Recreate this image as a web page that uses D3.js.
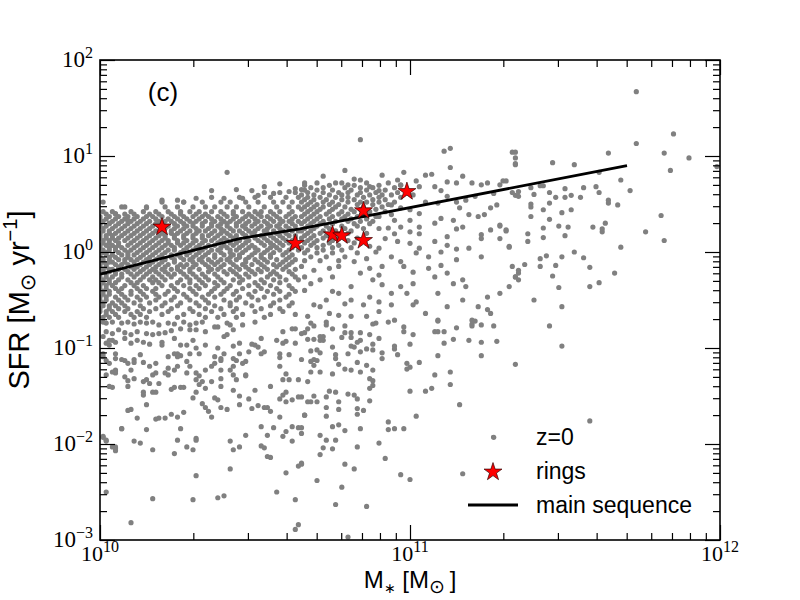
<!DOCTYPE html>
<html>
<head>
<meta charset="utf-8">
<script src="https://cdn.jsdelivr.net/npm/d3@7"></script>
<style>
  body { margin: 0; background: #fff; }
</style>
</head>
<body>
<div id="chart"></div>
<script>
// ---- data (log10 M*/Msun, log10 SFR/(Msun/yr)) ----

// dense part of the z=0 cloud, one row per log SFR level
var coreRows = [
  [0.62, [10.53,10.58,10.63]],
  [0.57, [10.36,10.45,10.50,10.55,10.60,10.64]],
  [0.52, [10.20,10.27,10.33,10.39,10.42,10.47,10.51,10.56,10.59,10.62]],
  [0.47, [10.07,10.15,10.21,10.25,10.30,10.34,10.37,10.41,10.44,10.48,10.53,10.57,10.61,10.64]],
  [0.42, [10.01,10.04,10.10,10.14,10.18,10.22,10.26,10.29,10.32,10.36,10.39,10.43,10.46,10.50,10.52,10.55,10.58,10.62]],
  [0.395, [10.02,10.05,10.08,10.11,10.16,10.19,10.23,10.26,10.31,10.34,10.40,10.43,10.48,10.51,10.56,10.61]],
  [0.37, [10.00,10.03,10.06,10.09,10.12,10.15,10.17,10.20,10.24,10.27,10.30,10.33,10.35,10.38,10.41,10.44,10.47,10.49,10.52,10.54,10.57,10.60,10.63]],
  [0.345, [10.00,10.02,10.05,10.08,10.11,10.14,10.18,10.22,10.25,10.28,10.32,10.36,10.39,10.43,10.46,10.50,10.55,10.58,10.62]],
  [0.32, [10.01,10.04,10.07,10.10,10.13,10.16,10.19,10.21,10.23,10.26,10.29,10.31,10.34,10.37,10.40,10.42,10.45,10.48,10.51,10.53,10.56,10.59,10.61,10.64]],
  [0.295, [10.00,10.03,10.06,10.09,10.12,10.15,10.18,10.20,10.24,10.27,10.30,10.33,10.36,10.39,10.41,10.44,10.47,10.50,10.54,10.58,10.62]],
  [0.27, [10.00,10.02,10.05,10.08,10.11,10.14,10.17,10.19,10.22,10.25,10.28,10.30,10.33,10.36,10.38,10.41,10.44,10.46,10.49,10.52,10.55,10.57,10.60,10.63]],
  [0.245, [10.01,10.04,10.07,10.10,10.13,10.16,10.21,10.24,10.27,10.31,10.35,10.39,10.42,10.47,10.51,10.54,10.58,10.61]],
  [0.22, [10.01,10.03,10.06,10.09,10.12,10.15,10.18,10.20,10.23,10.26,10.29,10.32,10.34,10.37,10.40,10.43,10.45,10.48,10.50,10.53,10.56,10.59,10.62,10.64]],
  [0.195, [10.00,10.03,10.05,10.08,10.11,10.14,10.17,10.20,10.23,10.25,10.28,10.31,10.36,10.39,10.41,10.46,10.49,10.54,10.57,10.60]],
  [0.17, [10.00,10.02,10.04,10.07,10.10,10.13,10.16,10.19,10.21,10.24,10.27,10.30,10.33,10.35,10.38,10.42,10.44,10.47,10.50,10.52,10.55,10.58,10.61,10.63]],
  [0.145, [10.00,10.02,10.04,10.06,10.09,10.12,10.15,10.18,10.21,10.24,10.27,10.30,10.33,10.37,10.40,10.43,10.47,10.50,10.53,10.56,10.59,10.63]],
  [0.12, [10.01,10.03,10.05,10.08,10.11,10.14,10.17,10.20,10.22,10.25,10.28,10.31,10.34,10.36,10.39,10.41,10.45,10.48,10.51,10.54,10.57,10.60,10.62]],
  [0.095, [10.01,10.03,10.06,10.10,10.13,10.16,10.19,10.22,10.25,10.27,10.30,10.33,10.38,10.42,10.44,10.47,10.52,10.55,10.58,10.61]],
  [0.07, [10.00,10.02,10.04,10.06,10.09,10.12,10.15,10.18,10.21,10.23,10.26,10.29,10.32,10.35,10.37,10.40,10.43,10.46,10.49,10.53,10.56,10.59,10.63]],
  [0.045, [10.00,10.03,10.05,10.07,10.11,10.14,10.17,10.20,10.24,10.28,10.31,10.34,10.39,10.41,10.45,10.48,10.50,10.55,10.57,10.62]],
  [0.02, [10.01,10.03,10.05,10.08,10.10,10.13,10.16,10.19,10.22,10.24,10.27,10.30,10.33,10.36,10.38,10.42,10.44,10.47,10.51,10.54,10.58,10.61,10.64]],
  [-0.005, [10.01,10.02,10.06,10.09,10.12,10.15,10.18,10.21,10.26,10.29,10.32,10.35,10.39,10.42,10.46,10.50,10.53,10.56,10.60]],
  [-0.03, [10.00,10.02,10.04,10.07,10.09,10.11,10.14,10.17,10.20,10.23,10.25,10.28,10.31,10.34,10.37,10.40,10.43,10.45,10.49,10.52,10.55,10.59,10.62]],
  [-0.055, [10.00,10.03,10.05,10.09,10.13,10.16,10.19,10.23,10.26,10.30,10.33,10.37,10.42,10.45,10.48,10.52,10.55,10.61]],
  [-0.08, [10.01,10.03,10.06,10.08,10.10,10.12,10.15,10.18,10.21,10.24,10.27,10.29,10.32,10.35,10.39,10.41,10.44,10.47,10.50,10.53,10.57,10.60,10.63]],
  [-0.105, [10.01,10.03,10.04,10.08,10.11,10.14,10.17,10.20,10.24,10.30,10.33,10.36,10.38,10.42,10.47,10.51,10.54,10.59,10.62]],
  [-0.13, [10.00,10.02,10.05,10.07,10.09,10.13,10.16,10.19,10.22,10.26,10.28,10.31,10.34,10.37,10.40,10.43,10.46,10.49,10.52,10.56,10.58,10.61]],
  [-0.155, [10.00,10.02,10.06,10.10,10.12,10.15,10.18,10.21,10.25,10.27,10.30,10.35,10.39,10.44,10.47,10.53,10.57,10.60]],
  [-0.18, [10.01,10.03,10.04,10.06,10.08,10.11,10.14,10.17,10.20,10.23,10.25,10.29,10.32,10.36,10.38,10.42,10.45,10.48,10.51,10.54,10.59,10.63]],
  [-0.205, [10.01,10.03,10.05,10.09,10.13,10.16,10.18,10.21,10.26,10.29,10.35,10.40,10.43,10.49,10.52,10.56,10.61]],
  [-0.23, [10.00,10.02,10.05,10.07,10.10,10.12,10.15,10.19,10.22,10.24,10.27,10.30,10.33,10.37,10.41,10.44,10.47,10.50,10.55,10.57,10.62]],
  [-0.26, [10.00,10.02,10.04,10.07,10.11,10.14,10.17,10.20,10.23,10.28,10.31,10.34,10.38,10.45,10.48,10.54,10.58,10.63]],
  [-0.29, [10.01,10.03,10.06,10.09,10.13,10.16,10.18,10.21,10.26,10.29,10.32,10.35,10.39,10.43,10.46,10.52,10.56,10.60,10.64]],
  [-0.32, [10.01,10.03,10.05,10.10,10.12,10.17,10.19,10.25,10.29,10.33,10.37,10.40,10.45,10.50,10.53,10.58]],
  [-0.35, [10.00,10.02,10.04,10.08,10.11,10.14,10.20,10.23,10.27,10.31,10.34,10.38,10.42,10.48,10.51,10.55,10.61]],
  [-0.38, [10.00,10.02,10.05,10.07,10.12,10.15,10.18,10.24,10.29,10.32,10.37,10.41,10.46,10.52,10.57,10.62]],
  [-0.41, [10.01,10.03,10.06,10.10,10.13,10.17,10.22,10.25,10.30,10.36,10.40,10.44,10.50,10.54,10.58,10.63]],
  [-0.44, [10.01,10.03,10.07,10.10,10.14,10.18,10.21,10.27,10.31,10.35,10.39,10.43,10.48,10.56,10.61]],
  [-0.47, [10.00,10.02,10.05,10.08,10.12,10.15,10.19,10.24,10.28,10.33,10.37,10.45,10.49,10.53,10.60]],
  [-0.50, [10.00,10.02,10.06,10.09,10.13,10.18,10.23,10.29,10.34,10.40,10.44,10.51,10.58]],
  [-0.53, [10.01,10.04,10.07,10.11,10.16,10.21,10.26,10.31,10.35,10.42,10.47,10.56,10.62]],
  [-0.56, [10.01,10.03,10.05,10.08,10.13,10.20,10.25,10.32,10.37,10.42,10.49,10.55,10.61]],
  [-0.59, [10.00,10.03,10.06,10.09,10.14,10.18,10.23,10.29,10.34,10.39,10.44,10.52,10.58]],
  [-0.62, [10.00,10.02,10.04,10.08,10.12,10.16,10.22,10.30,10.36,10.43,10.50,10.59]],
  [-0.65, [10.02,10.05,10.10,10.13,10.20,10.27,10.32,10.40,10.46,10.55,10.63]],
  [-0.68, [10.01,10.03,10.06,10.11,10.15,10.25,10.34,10.38,10.44,10.53]]
];

// moderately dense part just above 5e10 Msun
var midRows = [
  [0.72, [10.70,10.78,10.86,10.93]],
  [0.695, [10.66,10.74,10.82,10.90,10.97]],
  [0.67, [10.68,10.72,10.79,10.84,10.88,10.95]],
  [0.645, [10.66,10.70,10.75,10.81,10.86,10.92,10.99]],
  [0.62, [10.67,10.72,10.77,10.80,10.84,10.89,10.96]],
  [0.595, [10.65,10.69,10.74,10.78,10.83,10.87,10.91,10.94,11.01]],
  [0.57, [10.67,10.71,10.76,10.80,10.85,10.90,10.97]],
  [0.545, [10.66,10.69,10.73,10.78,10.82,10.88,10.92]],
  [0.52, [10.65,10.68,10.72,10.75,10.80,10.84,10.86,10.90,10.95]],
  [0.495, [10.67,10.70,10.74,10.77,10.83,10.88,10.93]],
  [0.47, [10.66,10.69,10.72,10.76,10.79,10.85,10.91]],
  [0.445, [10.65,10.68,10.71,10.75,10.81,10.84,10.89]],
  [0.42, [10.67,10.70,10.74,10.78,10.82,10.87,10.92]],
  [0.395, [10.66,10.69,10.73,10.77,10.80,10.85]],
  [0.37, [10.65,10.68,10.71,10.75,10.79,10.83,10.90]],
  [0.345, [10.67,10.70,10.74,10.78,10.81,10.86]],
  [0.32, [10.66,10.69,10.72,10.76,10.80,10.84,10.88]],
  [0.295, [10.65,10.68,10.71,10.75,10.82,10.87]],
  [0.27, [10.67,10.70,10.73,10.78,10.83]],
  [0.245, [10.66,10.69,10.74,10.79,10.85,10.90]],
  [0.22, [10.65,10.68,10.72,10.76,10.81]],
  [0.195, [10.67,10.71,10.75,10.80,10.86]],
  [0.17, [10.66,10.69,10.73,10.78]],
  [0.145, [10.65,10.68,10.72,10.77,10.83]],
  [0.12, [10.67,10.70,10.75,10.80]],
  [0.095, [10.66,10.69,10.74,10.82]],
  [0.07, [10.68,10.72,10.77]],
  [0.045, [10.65,10.70,10.75,10.81]],
  [0.02, [10.67,10.72,10.78]],
  [-0.01, [10.66,10.70,10.75,10.83]],
  [-0.05, [10.68,10.73,10.79]],
  [-0.09, [10.66,10.71,10.77]]
];

// individually readable galaxies
var loosePoints = [
  [11.73,1.67],[11.85,1.23],[11.73,1.13],[11.82,1.03],[11.90,0.98],[11.99,0.89],[11.84,0.85],[11.34,1.04],[11.34,0.98],[11.34,0.91],
  [11.46,0.93],[11.53,0.91],[11.64,1.03],[11.61,0.83],[11.68,0.75],[11.71,0.64],[11.60,0.68],[11.61,0.62],[11.56,0.67],[11.50,0.66],
  [11.55,0.57],[11.52,0.59],[11.50,0.57],[11.47,0.57],[11.45,0.62],[11.43,0.69],[11.42,0.69],[11.40,0.60],[11.39,0.67],[11.35,0.63],
  [11.35,0.58],[11.33,0.62],[11.30,0.74],[11.31,0.74],[11.29,0.70],[11.64,0.54],[11.64,0.51],[11.67,0.49],[11.52,0.44],[11.49,0.41],
  [11.45,0.51],[11.43,0.44],[11.39,0.50],[11.39,0.47],[11.39,0.37],[11.45,0.34],[11.48,0.27],[11.51,0.26],[11.50,0.17],[11.43,0.25],
  [11.43,0.15],[11.38,0.19],[11.38,0.11],[11.59,0.26],[11.62,0.24],[11.62,0.21],[11.63,0.30],[11.81,0.38],[11.76,0.21],[11.82,0.12],
  [11.68,0.05],[11.53,0.00],[11.56,-0.06],[11.58,-0.16],[11.66,-0.22],[11.61,-0.32],[11.58,-0.36],[11.49,-0.05],[11.47,-0.14],[11.46,-0.25],
  [11.48,-0.37],[11.44,-0.04],[11.42,-0.07],[11.42,-0.15],[11.37,-0.13],[11.35,-0.19],[11.35,-0.22],[11.34,-0.26],[11.35,-0.29],[11.40,-0.50],
  [11.49,-0.57],[11.45,-0.77],[11.32,0.05],[11.29,0.14],[11.29,0.27],[11.31,0.22],
  [11.49,-0.98],[11.34,-1.17],[11.58,-1.76],
  [10.66,-0.84],[10.67,-0.91],[10.69,-0.77],[10.67,-0.80],[10.73,-0.76],[10.73,-0.73],[10.75,-0.80],[10.79,-0.77],[10.79,-0.84],[10.78,-0.89],
  [10.81,-0.84],[10.81,-0.89],[10.84,-0.84],[10.88,-0.75],[10.89,-0.74],[10.93,-0.73],[10.87,-0.86],[10.90,-0.90],[10.84,-0.92],[10.83,-0.94],
  [10.82,-0.99],[10.81,-0.98],[10.88,-0.96],[10.88,-1.02],[10.86,-1.01],[10.84,-1.04],[10.80,-1.06],[10.76,-1.07],[10.76,-1.11],[10.75,-0.99],
  [10.77,-1.17],[10.79,-1.22],[10.81,-1.23],[10.84,-1.25],[10.86,-1.18],[10.88,-1.23],[10.91,-1.05],[10.91,-1.11],[10.83,-1.15],[10.71,-0.92],
  [10.71,-0.88],[10.72,-0.88],[10.69,-0.91],[10.72,-0.92],[10.70,-1.02],[10.71,-1.05],[10.68,-1.03],[10.69,-1.12],[10.69,-1.18],[10.70,-1.13],
  [10.65,-1.12],[10.68,-1.25],[10.71,-1.25],[10.75,-1.27],[10.87,-1.32],[10.88,-1.34],[10.88,-1.39],[10.87,-1.42],[10.76,-1.46],[10.74,-1.45],
  [10.80,-1.48],[10.82,-1.49],[10.83,-1.53],[10.87,-1.55],[10.77,-1.56],[10.73,-1.51],[10.69,-1.50],[10.70,-1.56],[10.68,-1.56],[10.65,-1.51],
  [10.73,-1.62],[10.77,-1.64],[10.83,-1.63],[10.85,-1.65],[10.83,-1.69],[10.73,-1.71],[10.66,-1.70],[10.75,-1.82],[10.77,-1.80],[10.79,-1.86],
  [10.84,-1.84],[10.65,-1.83],[10.65,-1.89],[10.71,-1.91],[10.73,-1.96],[10.76,-1.96],[10.72,-2.04],[10.75,-2.05],[10.71,-2.11],[10.83,-2.03],
  [10.90,-1.99],[10.92,-2.15],[10.79,-2.21],[10.82,-2.26],[10.65,-2.20],[10.70,-2.38],[10.78,-2.45],[10.76,-2.63],[10.86,-2.65],[10.80,-2.97],
  [10.97,-2.32],[11.00,-2.37],[10.93,-1.77],[10.93,-1.85],[10.95,-1.84],[10.98,-1.84],[11.02,-1.71],[11.00,-1.45],[11.05,-1.45],[11.07,-1.42],
  [11.08,-1.28],[11.13,-1.25],[11.13,-1.38],[11.09,-1.08],[11.03,-1.15],[11.00,-1.20],[10.99,-1.16],[10.99,-1.22],[10.96,-1.07],[10.95,-0.98],
  [10.95,-1.01],[11.00,-0.96],[10.98,-0.83],[11.01,-0.86],[11.08,-0.83],[11.09,-0.83],[11.11,-0.83],[11.09,-0.72],[11.11,-0.95],[11.14,-0.91],
  [11.15,-0.79],[11.20,-0.77],[11.20,-0.75],[11.21,-0.72],[11.23,-0.76],[11.27,-0.77],[11.19,-0.92],[11.23,-0.94],[11.28,-0.93],[11.23,-1.08],
  [11.16,-1.59],[11.27,-1.93],[11.17,-2.31],
  [10.01,-0.73],[10.02,-0.74],[10.04,-0.73],[10.07,-0.74],[10.09,-0.73],[10.11,-0.75],[10.13,-0.73],[10.15,-0.74],[10.17,-0.73],[10.19,-0.76],
  [10.22,-0.74],[10.24,-0.75],[10.27,-0.73],[10.29,-0.76],[10.31,-0.74],[10.33,-0.73],[10.02,-0.83],[10.04,-0.85],[10.06,-0.81],[10.08,-0.84],
  [10.10,-0.86],[10.12,-0.83],[10.15,-0.85],[10.17,-0.86],[10.19,-0.85],[10.21,-0.84],[10.23,-0.82],[10.26,-0.80],[10.29,-0.81],[10.31,-0.81],
  [10.34,-0.83],[10.37,-0.78],[10.03,-0.92],[10.05,-0.94],[10.08,-0.90],[10.10,-0.95],[10.12,-0.92],[10.14,-0.94],[10.16,-0.96],[10.20,-0.94],
  [10.26,-0.97],[10.24,-0.90],[10.01,-1.09],[10.05,-1.11],[10.08,-1.13],[10.09,-1.16],[10.11,-1.12],[10.14,-1.15],[10.16,-1.19],[10.24,-1.06],
  [10.25,-1.09],[10.26,-1.08],[10.29,-1.06],[10.04,-1.25],[10.05,-1.26],[10.08,-1.30],[10.10,-1.23],[10.11,-1.32],[10.09,-1.34],[10.04,-1.41],
  [10.14,-1.35],[10.15,-1.33],[10.16,-1.37],[10.19,-1.37],[10.17,-1.28],[10.18,-1.26],[10.21,-1.26],[10.24,-1.23],[10.22,-1.21],[10.22,-1.28],
  [10.23,-1.43],[10.24,-1.41],[10.26,-1.41],[10.27,-1.41],[10.28,-1.26],[10.31,-1.26],[10.31,-1.33],[10.32,-1.29],[10.33,-1.35],[10.34,-1.23],
  [10.36,-1.19],[10.37,-1.16],[10.39,-1.13],[10.39,-1.23],[10.39,-1.32],[10.42,-1.23],[10.43,-1.19],[10.44,-1.33],[10.47,-1.28],[10.36,-1.35],
  [10.34,-1.42],[10.31,-1.46],[10.32,-1.38],[10.30,-1.52],[10.33,-1.58],[10.34,-1.62],[10.37,-1.52],[10.38,-1.54],[10.35,-1.66],[10.36,-1.72],
  [10.39,-1.62],[10.41,-1.64],[10.43,-1.44],[10.45,-1.50],[10.45,-1.59],[10.47,-1.29],[10.48,-1.53],[10.49,-1.63],[10.51,-1.60],[10.53,-1.62],
  [10.50,-1.44],[10.47,-1.14],[10.50,-0.97],[10.53,-1.04],[10.51,-0.99],[10.45,-0.95],[10.43,-0.98],[10.40,-1.06],[10.38,-1.00],[10.41,-0.86],
  [10.42,-0.76],[10.40,-0.88],[10.46,-0.76],[10.50,-0.73],[10.52,-0.90],[10.57,-0.92],[10.59,-0.83],[10.62,-0.80],[10.63,-0.80],[10.65,-0.85],
  [10.59,-0.95],[10.60,-0.93],[10.63,-0.95],[10.58,-1.06],[10.58,-1.10],[10.61,-1.07],[10.68,-1.14],[10.58,-1.19],[10.60,-1.27],[10.59,-1.33],
  [10.61,-1.33],[10.64,-1.33],[10.67,-1.35],[10.60,-1.46],[10.59,-1.49],[10.58,-1.53],[10.60,-1.56],[10.62,-1.54],[10.64,-1.51],[10.67,-1.56],
  [10.55,-1.40],[10.54,-1.62],[10.55,-1.66],[10.58,-1.72],[10.66,-1.70],[10.52,-1.82],[10.56,-1.83],[10.59,-1.92],[10.60,-1.87],[10.62,-1.82],
  [10.64,-1.83],[10.62,-1.97],[10.54,-1.91],[10.52,-2.02],[10.53,-2.04],[10.54,-2.13],[10.55,-2.14],[10.65,-2.21],[10.64,-2.23],[10.60,-2.30],
  [10.57,-2.50],[10.63,-2.58],[10.64,-2.84],[10.63,-2.89],[10.47,-1.91],[10.45,-2.03],[10.43,-2.06],[10.42,-1.97],[10.42,-2.26],[10.40,-2.54],
  [10.38,-2.56],[10.31,-2.33],[10.30,-2.58],[10.31,-1.94],[10.31,-1.96],[10.30,-2.06],[10.28,-2.03],[10.26,-1.84],[10.25,-1.96],[10.24,-2.10],
  [10.23,-1.69],[10.25,-1.72],[10.27,-1.67],[10.21,-1.73],[10.19,-1.73],[10.18,-1.74],[10.15,-1.85],[10.12,-1.73],[10.09,-1.65],[10.10,-1.64],
  [10.07,-1.84],[10.01,-1.93],[10.02,-1.97],[10.04,-2.03],[10.05,-2.07],[10.11,-1.97],[10.13,-1.99],[10.17,-2.06],[10.17,-2.57],[10.10,-2.82],
  [10.02,-2.50],[10.14,-1.49],[10.15,-1.59],[10.17,-1.46],[10.18,-1.46],[10.14,-1.46],[10.09,-1.40],[10.02,-1.13],[10.05,-1.24],[10.11,-1.15],
  [10.07,-1.12],[10.13,-1.07],[10.05,-1.06],[10.03,-0.97],[10.22,-1.09],[10.25,-1.06],[10.20,-0.97],[10.28,-1.14],[10.29,-1.19],[10.25,-1.19],
  [10.18,-1.16],[10.38,-0.78],[10.41,-0.74],[10.43,-0.81],[10.34,-0.97],[10.31,-1.00],[10.28,-0.97],[10.30,-0.92],[10.32,-1.06],[10.37,-1.09],
  [10.39,-1.11],[10.44,-1.13],[10.45,-1.06],[10.48,-1.04],[10.46,-1.16],[10.43,-1.28],[10.39,-1.40],[10.43,-1.11],[10.52,-1.06],[10.49,-0.96],
  [10.01,-0.88],[10.02,-0.95],[10.04,-0.92],[10.01,-1.06],[10.03,-1.16],[10.05,-1.23],[10.02,-1.28],[10.03,-1.40],[10.01,-1.92],[10.02,-1.96],
  [10.05,-2.03],[10.05,-2.05],[10.07,-1.84],
  [10.84,1.17],[11.11,1.05],[11.13,1.08],[11.13,0.88],[11.33,1.04],[11.34,0.92],[10.98,0.83],[10.91,0.80],[10.79,0.85],[10.72,0.79],
  [10.76,0.72],[10.82,0.76],[10.84,0.75],[10.80,0.70],[10.87,0.68],[10.90,0.64],[10.96,0.75],[10.97,0.70],[11.02,0.74],[11.05,0.80],
  [11.07,0.81],[11.03,0.68],[11.08,0.68],[11.10,0.64],[11.12,0.73],[11.15,0.72],[11.17,0.79],[11.20,0.72],[11.23,0.70],[11.25,0.72],
  [11.34,0.59],[11.27,0.61],[11.21,0.58],[11.18,0.54],[11.16,0.46],[11.15,0.52],[11.12,0.58],[11.09,0.51],[11.05,0.52],[11.03,0.40],
  [11.00,0.44],[10.97,0.46],[10.94,0.49],[10.94,0.39],[10.89,0.37],[10.95,0.33],[11.00,0.33],[10.97,0.26],[11.03,0.26],[11.08,0.30],
  [11.10,0.35],[11.14,0.33],[11.19,0.39],[11.22,0.37],[11.24,0.39],[11.26,0.46],[11.28,0.49],[11.29,0.28],[11.31,0.23],[11.26,0.23],
  [11.23,0.18],[11.17,0.26],[11.12,0.16],[11.15,0.24],[11.08,0.11],[11.03,0.19],[11.00,0.21],[10.95,0.19],[10.93,0.25],[10.92,0.14],
  [10.96,0.11],[11.00,0.09],[11.03,0.04],[11.02,-0.01],[11.06,-0.05],[11.10,0.00],[11.12,0.07],[11.15,0.03],[11.19,0.04],[11.23,0.14],
  [11.32,0.06],[11.23,-0.05],[11.15,-0.08],[11.10,-0.14],[11.12,-0.22],[11.08,-0.26],[11.06,-0.17],[11.01,-0.21],[10.98,-0.15],[10.97,-0.10],
  [10.94,-0.05],[10.91,-0.15],[10.90,-0.24],[10.87,-0.17],[10.84,-0.22],[10.88,-0.29],[10.91,-0.34],[10.94,-0.43],[10.97,-0.36],[11.01,-0.33],
  [10.99,-0.43],[11.02,-0.52],[11.01,-0.55],[11.09,-0.43],[11.14,-0.33],[11.17,-0.29],[11.18,-0.36],[11.17,-0.50],[11.25,-0.47],[11.25,-0.60],
  [11.26,-0.64],[11.22,-0.57],[11.20,-0.71],[11.29,-0.43],[11.32,-0.36],[11.34,-0.26],[11.33,-0.15],[11.09,-0.71],[11.12,-0.57],[11.05,-0.64],
  [10.94,-0.55],[10.90,-0.52],[10.87,-0.47],[10.85,-0.55],[10.81,-0.50],[10.79,-0.54],[10.75,-0.41],[10.77,-0.43],[10.73,-0.50],[10.71,-0.57],
  [10.69,-0.55],[10.74,-0.64],[10.77,-0.66],[10.81,-0.67],[10.86,-0.67],[10.90,-0.62],[10.95,-0.71],[10.98,-0.78],[10.67,-0.67],[10.68,-0.74],
  [10.81,-0.36],[10.75,-0.26],[10.71,-0.29],[10.68,-0.33],[10.69,-0.19],[10.74,-0.17],[10.77,-0.15],[10.82,-0.10],[10.86,-0.07],[10.89,0.00],
  [10.90,0.04],[10.87,0.06],[10.65,-0.15],[10.66,-0.26],[10.66,-0.40],
  [10.41,0.83],[10.36,0.64],[10.31,0.56],[10.20,0.54],[10.15,0.46],[10.08,0.47],[10.05,0.40],[10.25,0.54],[10.27,0.52],[10.44,0.65],
  [10.49,0.64],[10.53,0.68],[10.58,0.71],[10.66,0.72],[10.63,0.66],[10.40,0.56],[10.46,0.56],[10.51,0.59],[10.56,0.61],[10.61,0.63],
  [10.65,0.65],[10.01,0.52],[10.03,0.30],[10.09,0.33]
];

// ring galaxies
var ringLogM   = [10.20, 10.63, 10.75, 10.78, 10.85, 10.85, 10.99];
var ringLogSFR = [0.26, 0.09, 0.18, 0.17, 0.12, 0.43, 0.63];

// main sequence
var msLogM   = [10.00, 10.45, 10.645, 11.70];
var msLogSFR = [-0.23, 0.14, 0.24, 0.90];

var xMajor = [1e10, 1e11, 1e12];
var xLabelExp = ['10', '11', '12'];
var yMajor = [1e-3, 1e-2, 1e-1, 1, 10, 100];
var yLabelExp = ['\u22123', '\u22122', '\u22121', '0', '1', '2'];

// ---- layout ----
var margin = {top: 60, right: 80, bottom: 60, left: 100},
    width = 800 - margin.left - margin.right,
    height = 600 - margin.top - margin.bottom;

var svg = d3.select('#chart')
  .append('svg')
    .attr('width', 800)
    .attr('height', 600)
  .append('g')
    .attr('transform', 'translate(' + margin.left + ',' + margin.top + ')');

var x = d3.scaleLog().domain([1e10, 1e12]).range([0, width]);
var y = d3.scaleLog().domain([1e-3, 1e2]).range([height, 0]);

// build the galaxy list
var galaxies = [];
coreRows.concat(midRows).forEach(function(r) {
  r[1].forEach(function(m) { galaxies.push({m: Math.pow(10, m), sfr: Math.pow(10, r[0])}); });
});
loosePoints.forEach(function(p) {
  galaxies.push({m: Math.pow(10, p[0]), sfr: Math.pow(10, p[1])});
});

svg.append('clipPath').attr('id', 'plotclip')
  .append('rect').attr('width', width).attr('height', height);

var plot = svg.append('g').attr('clip-path', 'url(#plotclip)');

plot.selectAll('circle.gal')
  .data(galaxies)
  .enter()
  .append('circle')
    .attr('class', 'gal')
    .attr('cx', function(d) { return x(d.m); })
    .attr('cy', function(d) { return y(d.sfr); })
    .attr('r', 2.6)
    .attr('fill', '#808080');

// main sequence line
var msData = msLogM.map(function(m, i) { return {m: Math.pow(10, m), sfr: Math.pow(10, msLogSFR[i])}; });
plot.append('path')
  .datum(msData)
  .attr('fill', 'none')
  .attr('stroke', '#000')
  .attr('stroke-width', 2.8)
  .attr('d', d3.line()
    .x(function(d) { return x(d.m); })
    .y(function(d) { return y(d.sfr); }));

// rings
var rings = ringLogM.map(function(m, i) { return {m: Math.pow(10, m), sfr: Math.pow(10, ringLogSFR[i])}; });
var star = d3.symbol().type(d3.symbolStar).size(100);
plot.selectAll('path.ring')
  .data(rings)
  .enter()
  .append('path')
    .attr('class', 'ring')
    .attr('d', star)
    .attr('transform', function(d) { return 'translate(' + x(d.m) + ',' + y(d.sfr) + ')'; })
    .attr('fill', '#ff0000')
    .attr('stroke', '#300')
    .attr('stroke-width', 0.7);

// ---- axes: ticks on all four sides, pointing inward ----
function minorTicks(lo, hi) {
  var out = [];
  for (var e = lo; e < hi; e++) {
    for (var k = 2; k <= 9; k++) out.push(k * Math.pow(10, e));
  }
  return out;
}
var xMinor = minorTicks(10, 12);
var yMinor = minorTicks(-3, 2);

function tickAxis(axisFn, scale, vals, size, tr) {
  var g = svg.append('g').attr('transform', tr || null)
    .call(axisFn(scale).tickValues(vals).tickSize(size).tickSizeOuter(0).tickFormat(''));
  g.select('.domain').remove();
  g.selectAll('line').attr('stroke', '#000').attr('stroke-width', 1.2);
}
tickAxis(d3.axisBottom, x, xMajor, -15, 'translate(0,' + height + ')');
tickAxis(d3.axisBottom, x, xMinor, -7, 'translate(0,' + height + ')');
tickAxis(d3.axisTop, x, xMajor, -15);
tickAxis(d3.axisTop, x, xMinor, -7);
tickAxis(d3.axisLeft, y, yMajor, -15);
tickAxis(d3.axisLeft, y, yMinor, -7);
tickAxis(d3.axisRight, y, yMajor, -15, 'translate(' + width + ',0)');
tickAxis(d3.axisRight, y, yMinor, -7, 'translate(' + width + ',0)');

svg.append('rect')
  .attr('width', width)
  .attr('height', height)
  .attr('fill', 'none')
  .attr('stroke', '#000')
  .attr('stroke-width', 1.6);

// tick labels 10^n
var serif = "'Liberation Serif', 'DejaVu Serif', serif";
var xl = svg.selectAll('text.xlab')
  .data(xMajor)
  .enter()
  .append('text')
    .attr('class', 'xlab')
    .attr('x', function(d) { return x(d); })
    .attr('y', height + 21)
    .attr('text-anchor', 'middle')
    .style('font-family', serif)
    .style('font-size', '22px');
xl.append('tspan').text('10');
xl.append('tspan').attr('dy', -9).style('font-size', '16px')
  .text(function(d, i) { return xLabelExp[i]; });

var yl = svg.selectAll('text.ylab')
  .data(yMajor)
  .enter()
  .append('text')
    .attr('class', 'ylab')
    .attr('x', -7)
    .attr('y', function(d) { return y(d) + 7; })
    .attr('text-anchor', 'end')
    .style('font-family', serif)
    .style('font-size', '23px');
yl.append('tspan').text('10');
yl.append('tspan').attr('dy', -9).style('font-size', '16px')
  .text(function(d, i) { return yLabelExp[i]; });

// axis titles
var sans = "'Liberation Sans', Arial, sans-serif";
var xt = svg.append('text')
  .attr('x', width / 2)
  .attr('y', height + 48)
  .attr('text-anchor', 'middle')
  .style('font-family', sans)
  .style('font-size', '24px');
xt.append('tspan').text('M');
xt.append('tspan').attr('dy', 5).style('font-size', '14px').text('\u2217');
xt.append('tspan').attr('dy', -5).text(' [M');
xt.append('tspan').attr('dy', 5).style('font-size', '19px').style('font-family', "'DejaVu Sans', sans-serif").text('\u2299');
xt.append('tspan').attr('dy', -5).text('\u2009]');

var yt = svg.append('text')
  .attr('transform', 'translate(' + (-71) + ',' + (height / 2) + ')rotate(-90)')
  .attr('text-anchor', 'middle')
  .style('font-family', sans)
  .style('font-size', '29px');
yt.append('tspan').text('SFR [M');
yt.append('tspan').attr('dy', 6).style('font-size', '21px').style('font-family', "'DejaVu Sans', sans-serif").text('\u2299');
yt.append('tspan').attr('dy', -6).text(' yr');
yt.append('tspan').attr('dy', -12).style('font-size', '20px').text('\u22121');
yt.append('tspan').attr('dy', 12).text(']');

// panel tag
svg.append('text')
  .attr('x', 63)
  .attr('y', 41)
  .attr('text-anchor', 'middle')
  .style('font-family', sans)
  .style('font-size', '26px')
  .text('(c)');

// ---- legend ----
var legend = svg.append('g').attr('transform', 'translate(368,377)');
legend.append('circle').attr('cx', 25).attr('cy', 0).attr('r', 2.1).attr('fill', '#808080');
legend.append('path').attr('d', star).attr('transform', 'translate(25,35)')
  .attr('fill', '#ff0000').attr('stroke', '#300').attr('stroke-width', 0.7);
legend.append('line').attr('x1', 0).attr('x2', 50).attr('y1', 68).attr('y2', 68)
  .attr('stroke', '#000').attr('stroke-width', 2.8);
var legendText = ['z=0', 'rings', 'main sequence'];
legend.selectAll('text.leg')
  .data(legendText)
  .enter()
  .append('text')
    .attr('class', 'leg')
    .attr('x', 68)
    .attr('y', function(d, i) { return 8 + i * 34; })
    .style('font-family', sans)
    .style('font-size', '23px')
    .text(function(d) { return d; });
</script>
</body>
</html>
